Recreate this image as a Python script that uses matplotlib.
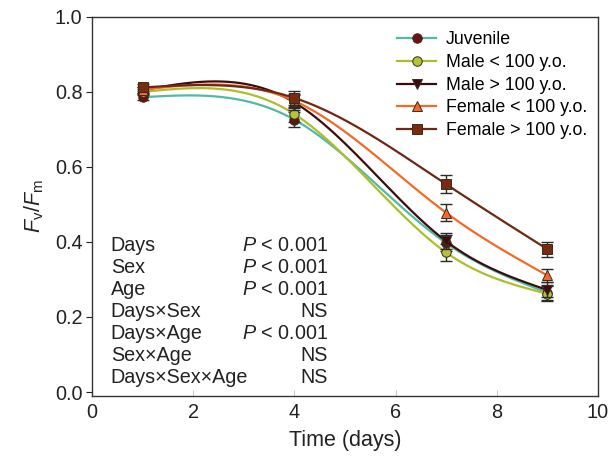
import numpy as np
import matplotlib
matplotlib.use("Agg")
import matplotlib.pyplot as plt
from matplotlib.lines import Line2D

plt.rcParams["font.family"] = ["Liberation Sans", "DejaVu Sans"]
plt.rcParams["mathtext.fontset"] = "custom"
plt.rcParams["mathtext.rm"] = "Liberation Sans"
plt.rcParams["mathtext.it"] = "Liberation Sans:italic"

days = [1, 4, 7, 9]
groups = ["Juvenile", "Male < 100 y.o.", "Male > 100 y.o.",
          "Female < 100 y.o.", "Female > 100 y.o."]
fvfm = [
    [0.786, 0.726, 0.397, 0.265],
    [0.800, 0.741, 0.372, 0.262],
    [0.805, 0.772, 0.402, 0.272],
    [0.806, 0.776, 0.478, 0.311],
    [0.812, 0.784, 0.554, 0.381],
]
err = [
    [0.008, 0.020, 0.022, 0.020],
    [0.008, 0.020, 0.022, 0.020],
    [0.008, 0.020, 0.022, 0.020],
    [0.008, 0.018, 0.022, 0.018],
    [0.010, 0.018, 0.024, 0.020],
]
line_colors = ["#52b8a8", "#aebd2c", "#3c0c0c", "#f26a26", "#6e2812"]
face_colors = ["#6e1010", "#b4c436", "#3c0c0c", "#f26a26", "#7a2a0e"]
markers = ["o", "o", "v", "^", "s"]

stat_terms = ["Days", "Sex", "Age", "Days×Sex", "Days×Age", "Sex×Age", "Days×Sex×Age"]
stat_vals = ["$P$ < 0.001", "$P$ < 0.001", "$P$ < 0.001", "NS",
             "$P$ < 0.001", "NS", "NS"]


def natural_spline(x, y, xs):
    """Natural cubic spline through (x, y), evaluated at xs."""
    x = np.asarray(x, float); y = np.asarray(y, float)
    n = len(x); h = np.diff(x)
    A = np.zeros((n, n)); b = np.zeros(n)
    A[0, 0] = A[-1, -1] = 1.0
    for i in range(1, n - 1):
        A[i, i - 1] = h[i - 1]; A[i, i] = 2 * (h[i - 1] + h[i]); A[i, i + 1] = h[i]
        b[i] = 6 * ((y[i + 1] - y[i]) / h[i] - (y[i] - y[i - 1]) / h[i - 1])
    M = np.linalg.solve(A, b)
    k = np.clip(np.searchsorted(x, xs) - 1, 0, n - 2)
    t1 = x[k + 1] - xs; t0 = xs - x[k]; hk = h[k]
    return (M[k] * t1**3 / (6 * hk) + M[k + 1] * t0**3 / (6 * hk)
            + (y[k] / hk - M[k] * hk / 6) * t1 + (y[k + 1] / hk - M[k + 1] * hk / 6) * t0)


fig = plt.figure(figsize=(6.1, 4.57), dpi=100)
ax = fig.add_axes([0.151, 0.134, 0.829, 0.829])

xs = np.linspace(1, 9, 300)
handles = []
for i, g in enumerate(groups):
    ax.plot(xs, natural_spline(days, fvfm[i], xs), color=line_colors[i], lw=1.6, zorder=2 + i)
    ax.errorbar(days, fvfm[i], yerr=err[i], fmt="none", ecolor="#2a2a2a",
                elinewidth=1.0, capsize=4, capthick=1.0, zorder=2 + i)
    ax.plot(days, fvfm[i], ls="none", marker=markers[i], ms=6.8,
            mfc=face_colors[i], mec="#3a2a20", mew=0.7, zorder=2.5 + i)
    handles.append(Line2D([], [], color=line_colors[i], lw=1.6, marker=markers[i],
                          ms=6.8, mfc=face_colors[i], mec="#3a2a20", mew=0.7))

ax.legend(handles, groups, loc="upper right", bbox_to_anchor=(1.0, 0.99),
          frameon=False, fontsize=12.8, handlelength=2.2, handletextpad=0.55,
          labelspacing=0.32, borderaxespad=0.2)

ax.set_xlim(0, 10)
ax.set_ylim(-0.01, 1.0)
ax.set_xticks(np.arange(0, 11, 2))
ax.set_yticks(np.arange(0, 1.01, 0.2))
ax.set_yticklabels([f"{t:.1f}" for t in np.arange(0, 1.01, 0.2)])
ax.tick_params(axis="y", direction="out", length=4, width=0.8, labelsize=14.3,
               colors="#222222", pad=3)
ax.tick_params(axis="x", direction="in", length=4, width=0.6, labelsize=14.3,
               color="#bbbbbb", labelcolor="#222222", pad=5)
for sp in ax.spines.values():
    sp.set_color("#333333")
    sp.set_linewidth(1.0)

ax.set_xlabel("Time (days)", fontsize=15.5, color="#222222", labelpad=6)
ax.set_ylabel("$F_\\mathrm{v}/F_\\mathrm{m}$", fontsize=15.5, color="#222222", labelpad=6)

for k, (t, v) in enumerate(zip(stat_terms, stat_vals)):
    y = 0.383 - k * 0.0581
    ax.text(0.037, y, t, transform=ax.transAxes, fontsize=14.2, color="#222222",
            va="baseline", ha="left")
    ax.text(0.466, y, v, transform=ax.transAxes, fontsize=14.2, color="#222222",
            va="baseline", ha="right")

fig.savefig("out.png", dpi=100)
